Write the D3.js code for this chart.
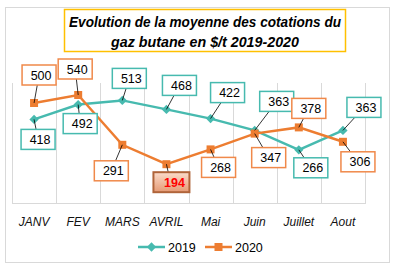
<!DOCTYPE html>
<html>
<head>
<meta charset="utf-8">
<script src="https://cdn.jsdelivr.net/npm/d3@7"></script>
<style>
  body { margin: 0; background: #fff; }
  svg text { font-family: "Liberation Sans", Arial, sans-serif; }
</style>
</head>
<body>
<div id="container"></div>
<script>
/* DATA */
const months = ["JANV", "FEV", "MARS", "AVRIL", "Mai", "Juin", "Juillet", "Aout"]
const values2019 = [418, 492, 513, 468, 422, 363, 266, 363]
const values2020 = [500, 540, 291, 194, 268, 347, 378, 306]
const titleLines = ["Evolution de la moyenne des cotations du", "gaz butane en $/t 2019-2020"]

/* LAYOUT (label offsets from the point, px) */
const offsets2019 = [[4, 20], [2, 19], [7, -22], [13, -24], [17, -26], [22, -29], [12, 18], [21, -23]]
const offsets2020 = [[5, -28], [-3, -26], [-11, 26], [4, 18], [8, 18], [14, 24], [10, -19], [15, 20]]

const width = 398, height = 269
const plot = { left: 12, right: 365, top: 83, bottom: 203 }
const teal = "#47BAAF", orange = "#ED7D31"

const svg = d3.select("#container").append("svg")
  .attr("width", width).attr("height", height)

const defs = svg.append("defs")
const grad = defs.append("linearGradient").attr("id", "peach")
  .attr("x1", 0).attr("y1", 0).attr("x2", 0).attr("y2", 1)
grad.append("stop").attr("offset", "0%").attr("stop-color", "#FBDCCB")
grad.append("stop").attr("offset", "100%").attr("stop-color", "#E59A74")

// outer frame
svg.append("rect")
  .attr("x", 5.5).attr("y", 7.5).attr("width", 384).attr("height", 255)
  .attr("fill", "#fff").attr("stroke", "#d9d9d9")

// SCALES
const xScale = d3.scaleBand().domain(months).range([plot.left, plot.right])
const yScale = d3.scaleLinear().domain([0, 600]).range([plot.bottom, plot.top])
const cx = d => xScale(d) + xScale.bandwidth() / 2

// gridlines (vertical, between categories)
const bounds = months.map(m => xScale(m)).concat([plot.right])
svg.selectAll(".grid").data(bounds).join("line")
  .attr("x1", d => Math.round(d) + 0.5).attr("x2", d => Math.round(d) + 0.5)
  .attr("y1", plot.top).attr("y2", plot.bottom)
  .attr("stroke", "#d9d9d9")

svg.append("line")
  .attr("x1", plot.left).attr("x2", plot.right + 1)
  .attr("y1", plot.bottom + 0.5).attr("y2", plot.bottom + 0.5)
  .attr("stroke", "#d9d9d9")

// x axis labels
const xAxis = svg.append("g")
  .attr("transform", `translate(0, ${plot.bottom})`)
  .call(d3.axisBottom(xScale).tickSize(0).tickPadding(14))
xAxis.select(".domain").remove()
xAxis.selectAll("text")
  .attr("font-family", "Liberation Sans, Arial, sans-serif")
  .attr("font-size", 12).attr("font-style", "italic").attr("fill", "#111")

// SERIES
const series = [
  { name: "2019", values: values2019, color: teal, offsets: offsets2019, box: teal },
  { name: "2020", values: values2020, color: orange, offsets: offsets2020, box: "#F0894A" }
]

const lineGen = d3.line().x((d, i) => cx(months[i])).y(d => yScale(d))

series.forEach(s => {
  svg.append("path")
    .attr("d", lineGen(s.values))
    .attr("fill", "none").attr("stroke", s.color).attr("stroke-width", 2.5)
})

// markers
svg.selectAll(".m19").data(values2019).join("path")
  .attr("transform", (d, i) => `translate(${cx(months[i])}, ${yScale(d)})`)
  .attr("d", d3.symbol(d3.symbolDiamond2, 55)).attr("fill", teal)
svg.selectAll(".m20").data(values2020).join("rect")
  .attr("x", (d, i) => cx(months[i]) - 4).attr("y", d => yScale(d) - 4)
  .attr("width", 8).attr("height", 8).attr("fill", orange)

// data labels
const boxW = 34, boxH = 20
series.forEach(s => {
  s.values.forEach((v, i) => {
    const px = cx(months[i]), py = yScale(v)
    const bx = px + s.offsets[i][0], by = py + s.offsets[i][1]
    const special = s.name === "2020" && v === d3.min(values2020)
    svg.append("line")
      .attr("x1", px).attr("y1", py).attr("x2", bx).attr("y2", by)
      .attr("stroke", "#000").attr("stroke-width", 0.8)
    svg.append("rect")
      .attr("x", bx - boxW / 2).attr("y", by - boxH / 2)
      .attr("width", special ? 36 : boxW).attr("height", boxH)
      .attr("fill", special ? "url(#peach)" : "#fff")
      .attr("stroke", special ? "#B0643A" : s.box)
      .attr("stroke-width", special ? 2 : 1.5)
    svg.append("text")
      .attr("x", bx + (special ? 4 : 2)).attr("y", by + 4.5)
      .attr("text-anchor", "middle")
      .attr("font-size", 12.5)
      .attr("font-weight", special ? "bold" : "normal")
      .attr("fill", special ? "#FF0000" : "#000")
      .text(v)
  })
})

// TITLE
svg.append("rect")
  .attr("x", 64.5).attr("y", 9.5).attr("width", 281).attr("height", 42)
  .attr("fill", "#fff").attr("stroke", "#FFC000").attr("stroke-width", 1.5)
svg.selectAll(".title").data(titleLines).join("text")
  .attr("x", 205).attr("y", (d, i) => 27 + i * 20)
  .attr("text-anchor", "middle")
  .attr("font-size", 14.5).attr("font-weight", "bold").attr("font-style", "italic")
  .attr("fill", "#000")
  .attr("textLength", (d, i) => i === 0 ? 272 : 188)
  .attr("lengthAdjust", "spacingAndGlyphs")
  .text(d => d)

// LEGEND
const legend = svg.append("g")
const legX = [138, 205]
series.forEach((s, i) => {
  const g = legend.append("g").attr("transform", `translate(${legX[i]}, 247)`)
  g.append("line").attr("x1", 0).attr("x2", 27).attr("stroke", s.color).attr("stroke-width", 2.5)
  if (i === 0) {
    g.append("path").attr("transform", "translate(13.5,0)")
      .attr("d", d3.symbol(d3.symbolDiamond2, 55)).attr("fill", s.color)
  } else {
    g.append("rect").attr("x", 9.5).attr("y", -4).attr("width", 8).attr("height", 8).attr("fill", s.color)
  }
  g.append("text").attr("x", 30).attr("y", 4.5)
    .attr("font-size", 12.5).attr("fill", "#000").text(s.name)
})
</script>
</body>
</html>
